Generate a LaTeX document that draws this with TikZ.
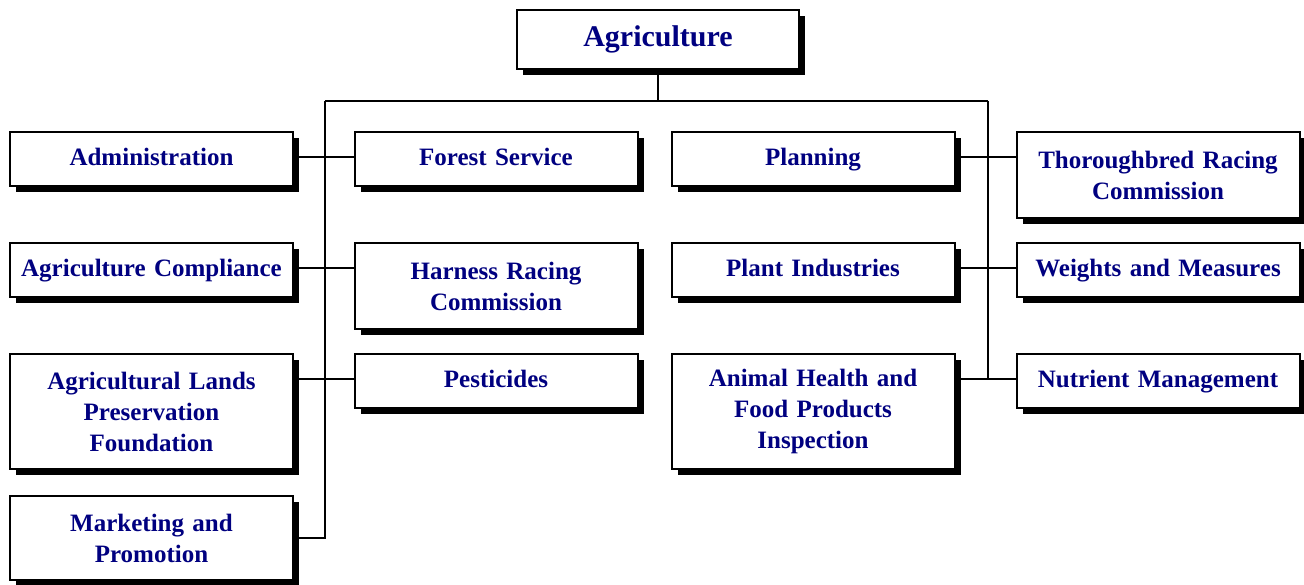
\documentclass[tikz,border=0pt]{standalone}
\usepackage{fontspec}
\setmainfont{Liberation Serif}
\usetikzlibrary{shadows}
\definecolor{navytext}{RGB}{0,0,128}
\begin{document}
\begin{tikzpicture}[x=1bp,y=-1bp,
  orgbox/.style={draw=black, line width=2bp, fill=white, anchor=north,
    minimum width=283bp, text width=275bp, align=center, inner sep=0pt,
    font=\fontsize{25bp}{31bp}\selectfont\bfseries, text=navytext,
    drop shadow={shadow xshift=6bp, shadow yshift=-6bp, fill=black, opacity=1}},
  oneline/.style={text height=17bp, text depth=5bp},
  conn/.style={line width=2.8bp, black}]
\useasboundingbox (0,0) rectangle (1304,585);
% levels
\coordinate (r1) at (0,157);
\coordinate (r2) at (0,268);
\coordinate (r3) at (0,379);
\coordinate (bus) at (0,101);
\coordinate (busL) at (325,101);
\coordinate (busR) at (988,101);
% nodes
\node[orgbox, minimum width=282bp, minimum height=59bp, text height=20bp, text depth=6bp, font=\fontsize{30bp}{36bp}\selectfont\bfseries] (agr) at (658,9) {Agriculture};
\node[orgbox, oneline, minimum height=54bp] (admin) at (151.5,131) {Administration};
\node[orgbox, oneline, minimum height=54bp] (compl) at (151.5,242) {Agriculture Compliance};
\node[orgbox, minimum height=115bp] (lands) at (151.5,353) {Agricultural Lands\\Preservation\\Foundation};
\node[orgbox, minimum height=84bp] (mkt) at (151.5,495) {Marketing and\\Promotion};
\node[orgbox, oneline, minimum height=54bp] (forest) at (496,131) {Forest Service};
\node[orgbox, minimum height=86bp] (harness) at (496,242) {Harness Racing\\Commission};
\node[orgbox, oneline, minimum height=54bp] (pest) at (496,353) {Pesticides};
\node[orgbox, oneline, minimum height=54bp] (plan) at (813,131) {Planning};
\node[orgbox, oneline, minimum height=54bp] (plant) at (813,242) {Plant Industries};
\node[orgbox, minimum height=115bp] (animal) at (813,353) {Animal Health and\\Food Products\\Inspection};
\node[orgbox, minimum height=86bp] (thor) at (1158,131) {Thoroughbred Racing\\Commission};
\node[orgbox, oneline, minimum height=54bp] (weights) at (1158,242) {Weights and Measures};
\node[orgbox, oneline, minimum height=54bp] (nutr) at (1158,353) {Nutrient Management};
% connectors
\draw[conn] (agr.south) -- (agr.south |- bus);
\draw[conn] (busL) -- (busR);
\draw[conn] (busL) -- (busL |- mkt.east) -- (mkt.east);
\draw[conn] (busR) -- (busR |- r3);
\draw[conn] (admin.east |- r1) -- (forest.west |- r1);
\draw[conn] (compl.east |- r2) -- (harness.west |- r2);
\draw[conn] (lands.east |- r3) -- (pest.west |- r3);
\draw[conn] (plan.east |- r1) -- (thor.west |- r1);
\draw[conn] (plant.east |- r2) -- (weights.west |- r2);
\draw[conn] (animal.east |- r3) -- (nutr.west |- r3);
\end{tikzpicture}
\end{document}
